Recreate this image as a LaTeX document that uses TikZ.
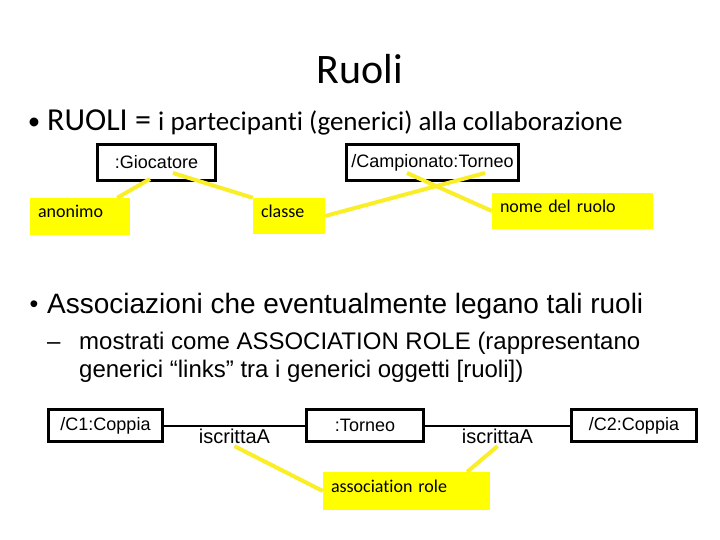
\documentclass[tikz,border=0pt]{standalone}
\usepackage{fontspec}
\setmainfont{Carlito}[Ligatures=NoCommon]
\newfontfamily\arialfont{Liberation Sans}
\usetikzlibrary{positioning, calc}
\definecolor{noteyellow}{RGB}{255,255,0}
\definecolor{lineyellow}{RGB}{250,238,40}
\tikzset{
    objbox/.style={draw=black, line width=3pt, fill=white, inner sep=2pt,
        font=\arialfont\fontsize{18}{20}\selectfont},
    note/.style={fill=noteyellow, inner xsep=8pt, inner ysep=0pt, align=left,
        text height=12pt, text depth=9pt, font=\fontsize{18}{20}\selectfont},
    noteline/.style={lineyellow, line width=4pt},
    link/.style={black, line width=2pt},
    linklabel/.style={below=2pt, inner sep=1pt, font=\arialfont\fontsize{20}{22}\selectfont},
}
\begin{document}
\begin{tikzpicture}[x=1pt, y=-1pt]
    \useasboundingbox (0,0) rectangle (720,540);

    % title and bullets
    \node[anchor=base] (title) at (360,84) {\fontsize{42}{50}\selectfont Ruoli};
    \node[anchor=base] (dot1) at (34,130) {\fontsize{25}{28}\selectfont\textbullet};
    \node[anchor=base west, inner sep=0pt] (line1) at (47,131)
        {\fontsize{32}{36}\selectfont RUOLI = \fontsize{27}{30}\selectfont i partecipanti (generici) alla collaborazione};
    \node[anchor=base] (dot2) at (34,312) {\arialfont\fontsize{25}{28}\selectfont\textbullet};
    \node[anchor=base west, inner sep=0pt] (line2) at (47,313)
        {\arialfont\fontsize{28}{30}\selectfont Associazioni che eventualmente legano tali ruoli};
    \node[anchor=base west, inner sep=0pt] (dash) at (47,349) {\arialfont\fontsize{24}{28}\selectfont –};
    \node[anchor=base west, inner sep=0pt] (line3) at (79,349)
        {\arialfont\fontsize{24}{28}\selectfont mostrati come ASSOCIATION ROLE (rappresentano};
    \node[anchor=base west, inner sep=0pt] (line4) at (79,377)
        {\arialfont\fontsize{24}{28}\selectfont generici “links” tra i generici oggetti [ruoli])};

    % role objects
    \node[objbox, minimum width=118pt, minimum height=36pt] (gioc) at (156.5,162.5) {:Giocatore};
    \node[objbox, minimum width=172pt, minimum height=36pt] (camp) at (432.5,162.5) {/Campionato:Torneo};

    % association roles
    \node[objbox, minimum width=114pt, minimum height=32pt] (c1) at (105.5,425.5) {/C1:Coppia};
    \node[objbox, minimum width=117pt, minimum height=32pt] (torneo) at (365,425.5) {:Torneo};
    \node[objbox, minimum width=125pt, minimum height=32pt] (c2) at (634,425.5) {/C2:Coppia};
    \draw[link] (c1) -- node[linklabel] (lab1) {iscrittaA} (torneo);
    \draw[link] (torneo) -- node[linklabel] (lab2) {iscrittaA} (c2);

    % yellow notes
    \foreach \name/\cx/\cy/\w/\h/\txt in {
        anon/80/216.5/100/37/anonimo,
        classe/289/216/72/36/classe,
        nome/572.5/211/161/36/nome del ruolo,
        assoc/406.5/491/167/38/association role}{

        \node[note, text width=\w pt-16pt, minimum height=\h pt] (\name) at (\cx,\cy) {\txt};
    }

    \coordinate (gioc-a) at ($(gioc.center)+(-6.5,16.5)$);
    \coordinate (gioc-b) at ($(gioc.center)+(16.5,10.5)$);
    \coordinate (camp-a) at ($(camp.center)+(52.5,10.5)$);
    \coordinate (camp-b) at ($(camp.center)+(-25.5,10.5)$);
    \coordinate (anon-top) at ($(anon.north east)+(-13,0)$);
    \coordinate (assoc-top) at ($(assoc.north east)+(-23,0)$);

    % note lines
    \draw[noteline] (anon-top) -- (gioc-a);
    \draw[noteline] (classe.north west) -- (gioc-b);
    \draw[noteline] (classe.east) -- (camp-a);
    \draw[noteline] (nome.west) -- (camp-b);
    \draw[noteline] (lab1.south) -- (assoc.west);
    \draw[noteline] (lab2.south) -- (assoc-top);
\end{tikzpicture}
\end{document}
